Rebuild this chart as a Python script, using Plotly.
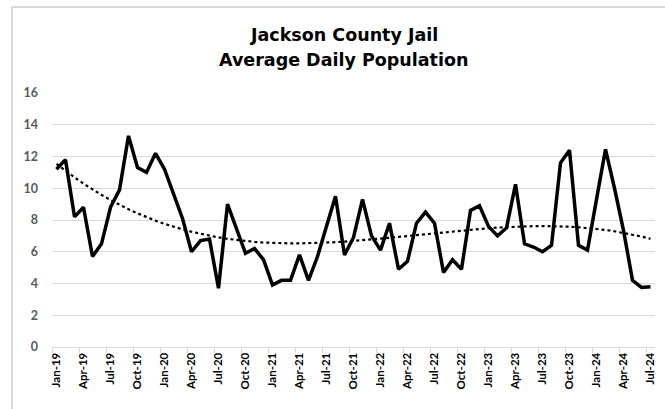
import numpy as np
import plotly.graph_objects as go

months = ["Jan", "Feb", "Mar", "Apr", "May", "Jun", "Jul", "Aug", "Sep", "Oct", "Nov", "Dec"]
categories = [f"{m}-{y}" for y in range(19, 25) for m in months][:67]

population = [
    11.2, 11.8, 8.2, 8.8, 5.7, 6.5, 8.8, 9.9, 13.3, 11.3, 11.0, 12.2,
    11.2, 9.7, 8.1, 6.0, 6.7, 6.8, 3.7, 9.0, 7.5, 5.9, 6.2, 5.5,
    3.9, 4.2, 4.2, 5.8, 4.2, 5.7, 7.6, 9.5, 5.8, 6.9, 9.3, 7.0,
    6.1, 7.8, 4.9, 5.4, 7.8, 8.5, 7.8, 4.7, 5.5, 4.9, 8.6, 8.9,
    7.6, 7.0, 7.5, 10.25, 6.5, 6.3, 6.0, 6.4, 11.6, 12.4, 6.4, 6.1,
    9.3, 12.45, 10.0, 7.35, 4.2, 3.75, 3.8,
]

tick_labels = categories[::3]
title_lines = ["Jackson County Jail", "Average Daily Population"]

x = np.arange(len(population))
coef = np.polyfit(x + 1, population, 3)
trend = np.polyval(coef, x + 1)

fig = go.Figure()
fig.add_trace(go.Scatter(x=x, y=trend, mode="lines",
                         line=dict(color="black", width=2.2, dash="dot"),
                         hoverinfo="skip", showlegend=False))
fig.add_trace(go.Scatter(x=x, y=population, mode="lines",
                         line=dict(color="black", width=3.5),
                         showlegend=False))

L, R, T, B = 51.7, 8.3, 92.7, 62.3
W, H = 665, 409
pw, ph = W - L - R, H - T - B

def py(ypix):
    return (H - B - ypix) / ph

annotations = [dict(xref="paper", yref="paper", x=(10.7 - L) / pw, y=py(5.7),
                    xanchor="left", yanchor="top", text="", showarrow=False,
                    width=W + 20, height=H + 20, borderwidth=2, borderpad=0,
                    bordercolor="#d9d9d9", bgcolor="rgba(0,0,0,0)")]
for line, ypix in zip(title_lines, [35, 60]):
    annotations.append(dict(xref="paper", yref="paper", x=(W / 2 + 12 - L) / pw, y=py(ypix),
                            xanchor="center", yanchor="middle", text=line, showarrow=False,
                            font=dict(family="DejaVu Sans", size=17.5, color="#000000",
                                      weight="bold")))

fig.update_layout(
    width=W, height=H,
    margin=dict(l=L, r=R, t=T, b=B),
    paper_bgcolor="white", plot_bgcolor="white",
    xaxis=dict(range=[-0.5, len(population) - 0.5],
               tickmode="array", tickvals=list(x[::3]), ticktext=tick_labels,
               tickangle=-90, ticks="",
               tickfont=dict(family="Lato", size=11.5, color="#000000", weight="bold"),
               showgrid=False, zeroline=False,
               showline=True, linecolor="#d9d9d9", linewidth=1.3,
               minor=dict(ticks="outside", tickmode="linear", tick0=-0.5, dtick=3,
                          ticklen=5, tickcolor="#d9d9d9", tickwidth=1.3, showgrid=False)),
    yaxis=dict(range=[0, 16], tickmode="linear", tick0=0, dtick=2,
               tickfont=dict(family="Lato", size=12.5, color="#595959", weight="bold"),
               showgrid=True, gridcolor="#d9d9d9", gridwidth=1.3,
               zeroline=False, showline=False, ticks="", ticklabelstandoff=13),
    annotations=annotations,
)

fig.write_html("out.html", config={"displayModeBar": False},
               post_script="document.body.style.margin='0px';document.body.style.overflow='hidden';")
